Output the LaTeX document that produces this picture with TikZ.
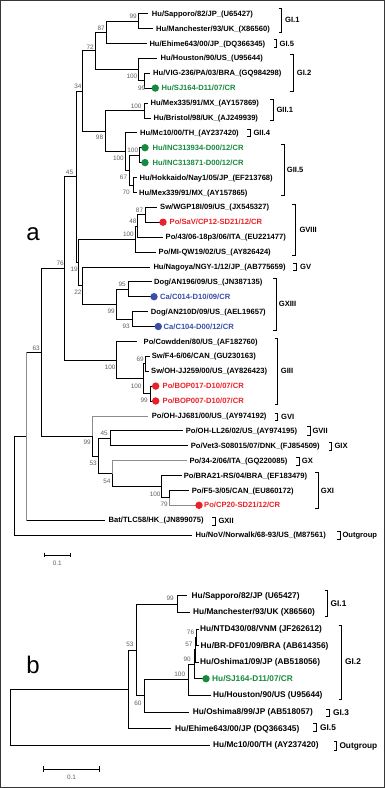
\documentclass[tikz,border=0pt]{standalone}
\usepackage{fontspec}
\setmainfont{Liberation Sans}
\definecolor{cgreen}{RGB}{22,138,62}
\definecolor{cred}{RGB}{236,32,40}
\definecolor{cblue}{RGB}{58,78,170}
\definecolor{bsgray}{RGB}{95,95,95}
\definecolor{lgray}{RGB}{140,140,140}
\definecolor{framec}{RGB}{55,55,55}
\newcommand\lfsize{\fontsize{7.6}{9}\selectfont}
\tikzset{
  br/.style={line width=0.8pt, draw=black},
  lgr/.style={draw=lgray},
  lf/.style={anchor=mid west, inner sep=0pt, font=\bfseries\lfsize},
  bsn/.style={anchor=mid east, inner sep=0pt, text=bsgray, font=\fontsize{6.4}{7}\selectfont},
  grpl/.style={anchor=mid west, inner sep=0pt, font=\bfseries\lfsize},
  brk/.style={line width=0.8pt, draw=black},
  dotn/.style={circle, inner sep=0pt, minimum size=7.4pt},
  panel/.style={anchor=base, inner sep=0pt, font=\fontsize{24}{24}\selectfont},
  sclab/.style={inner sep=0pt, text=bsgray, font=\fontsize{6.4}{7}\selectfont},
}
\newcommand\leaf[7]{%
  \coordinate (#1e) at (#3,#4);
  \draw[br,#6] (#2) |- (#1e);
  \node[lf] (#1) at (#5,#4) {#7};}
\newcommand\cleaf[9]{%
  \coordinate (#1e) at (#3,#4);
  \draw[br,#9] (#2) |- (#1e);
  \node[dotn, fill=#7] (#1d) at (#5,#4) {};
  \node[lf, text=#7] (#1) at (#6,#4) {#8};}
\newcommand\bsl[4]{\node[bsn] (#1) at (#2,#3) {#4};}
\newcommand\grp[6]{%
  \draw[brk] ({#2-3},#3) -- (#2,#3) -- (#2,#4) -- ({#2-3},#4);
  \node[grpl] (#1) at (#5,{(#3+#4)/2}) {#6};}
\begin{document}
\begin{tikzpicture}[x=1pt,y=-1pt]
\useasboundingbox (0,0) rectangle (385,788);
\draw[framec, line width=1.4pt] (0.7,0.7) rectangle (384.3,787.3);

% ---------------- tree a : internal nodes
\coordinate (A1) at (138,21.05);
\coordinate (A2) at (106,32.2);
\coordinate (A5) at (144.5,80.65);
\coordinate (A4) at (138,69.5);
\coordinate (A3) at (95,50.85);
\coordinate (G1) at (144,110.45);
\coordinate (E) at (139.3,155.15);
\coordinate (F) at (133.3,184.95);
\coordinate (G) at (129.3,170.05);
\coordinate (C) at (125,151.4);
\coordinate (GII) at (105.3,130.9);
\coordinate (B) at (82,90.9);
\coordinate (H) at (145.7,214.75);
\coordinate (I) at (137.7,225.9);
\coordinate (J) at (135.3,238.95);
\coordinate (U) at (128.3,289.25);
\coordinate (V) at (132.3,319.05);
\coordinate (M) at (116.3,304.15);
\coordinate (L) at (82.7,285.5);
\coordinate (K) at (78.7,262.2);
\coordinate (N) at (76,176.55);
\coordinate (S) at (145.7,363.75);
\coordinate (T) at (150.7,393.55);
\coordinate (R) at (143.3,378.65);
\coordinate (Q) at (116.3,360.0);
\coordinate (O) at (64.3,268.3);
\coordinate (Z1) at (110,438.25);
\coordinate (Z4) at (169.3,497.85);
\coordinate (Z3) at (161.3,486.7);
\coordinate (Z2) at (112.7,473.65);
\coordinate (Z) at (98.3,455.95);
\coordinate (Y) at (92.7,435.9);
\coordinate (P) at (41,352.1);
\coordinate (W) at (26.7,436.15);
\coordinate (X) at (14.7,485.6);

\foreach \p/\c in {A2/A1,A3/A2,A3/A4,A4/A5,B/A3,B/GII,GII/G1,GII/C,C/G,G/E,G/F,N/B,N/K,K/J,K/L,J/I,I/H,L/M,M/U,M/V,O/N,O/Q,Q/R,R/S,R/T,P/O,P/Y,Y/Z,Z/Z1,Z/Z2,Z2/Z3,Z3/Z4,X/W}
  \draw[br] (\p) |- (\c);
\draw[br,lgr] (W) |- (P);
\draw[br] (W |- P) -- (P);

% ---------------- tree a : leaves
\leaf{a1}{A1}{148}{13.6}{151.7}{}{Hu/Sapporo/82/JP\_(U65427)}
\leaf{a2}{A1}{153}{28.5}{156}{}{Hu/Manchester/93/UK\_(X86560)}
\leaf{a3}{A2}{147}{43.4}{149.3}{}{Hu/Ehime643/00/JP\_(DQ366345)}
\leaf{a4}{A4}{157}{58.3}{160.5}{}{Hu/Houston/90/US\_(U95644)}
\leaf{a5}{A5}{149.5}{73.2}{153}{}{Hu/VIG-236/PA/03/BRA\_(GQ984298)}
\cleaf{a6}{A5}{151.5}{88.1}{155.3}{161.5}{cgreen}{Hu/SJ164-D11/07/CR}{}
\leaf{a7}{G1}{148}{103.0}{150.5}{}{Hu/Mex335/91/MX\_(AY157869)}
\leaf{a8}{G1}{151}{117.9}{153.5}{}{Hu/Bristol/98/UK\_(AJ249939)}
\leaf{a9}{C}{137}{132.8}{140}{}{Hu/Mc10/00/TH\_(AY237420)}
\cleaf{a10}{E}{141.5}{147.7}{145}{152.5}{cgreen}{Hu/INC313934-D00/12/CR}{}
\cleaf{a11}{E}{141.5}{162.6}{145}{152.5}{cgreen}{Hu/INC313871-D00/12/CR}{}
\leaf{a12}{F}{137}{177.5}{139.5}{}{Hu/Hokkaido/Nay1/05/JP\_(EF213768)}
\leaf{a13}{F}{137}{192.4}{139}{}{Hu/Mex339/91/MX\_(AY157865)}
\leaf{a14}{H}{156.5}{207.3}{160}{}{Sw/WGP18I/09/US\_(JX545327)}
\cleaf{a15}{H}{159.5}{222.2}{163}{169.5}{cred}{Po/SaV/CP12-SD21/12/CR}{}
\leaf{a16}{I}{163}{237.1}{165.5}{}{Po/43/06-18p3/06/ITA\_(EU221477)}
\leaf{a17}{J}{155.5}{252.0}{158.5}{}{Po/MI-QW19/02/US\_(AY826424)}
\leaf{a18}{L}{150}{266.9}{153.3}{}{Hu/Nagoya/NGY-1/12/JP\_(AB775659)}
\leaf{a19}{U}{151.5}{281.8}{154}{}{Dog/AN196/09/US\_(JN387135)}
\cleaf{a20}{U}{150.5}{296.7}{154}{160}{cblue}{Ca/C014-D10/09/CR}{}
\leaf{a21}{V}{148.3}{311.6}{150.7}{}{Dog/AN210D/09/US\_(AEL19657)}
\cleaf{a22}{V}{154.5}{326.5}{158.3}{163.5}{cblue}{Ca/C104-D00/12/CR}{}
\leaf{a23}{Q}{136.7}{341.4}{143.5}{}{Po/Cowdden/80/US\_(AF182760)}
\leaf{a24}{S}{149.5}{356.3}{151.7}{}{Sw/F4-6/06/CAN\_(GU230163)}
\leaf{a25}{S}{149}{371.2}{151}{}{Sw/OH-JJ259/00/US\_(AY826423)}
\cleaf{a26}{T}{152.5}{386.1}{155.7}{162.5}{cred}{Po/BOP017-D10/07/CR}{}
\cleaf{a27}{T}{152.5}{401.0}{155.7}{162.5}{cred}{Po/BOP007-D10/07/CR}{}
\leaf{a28}{Y}{148.3}{415.9}{151.7}{lgr}{Po/OH-JJ681/00/US\_(AY974192)}
\leaf{a29}{Z1}{183.3}{430.8}{185.7}{}{Po/OH-LL26/02/US\_(AY974195)}
\leaf{a30}{Z1}{188.3}{445.7}{190.7}{}{Po/Vet3-S08015/07/DNK\_(FJ854509)}
\leaf{a31}{Z2}{186.7}{460.6}{189.3}{lgr}{Po/34-2/06/ITA\_(GQ220085)}
\leaf{a32}{Z3}{181.7}{475.5}{183.7}{}{Po/BRA21-RS/04/BRA\_(EF183479)}
\leaf{a33}{Z4}{189.3}{490.4}{191.7}{}{Po/F5-3/05/CAN\_(EU860172)}
\cleaf{a34}{Z4}{195.5}{505.3}{199}{204}{cred}{Po/CP20-SD21/12/CR}{lgr}
\leaf{a35}{W}{105}{520.2}{108.5}{lgr}{Bat/TLC58/HK\_(JN899075)}
\draw[br] (W |- a35e) -- (a35e);
\leaf{a36}{X}{191.7}{535.1}{195.5}{}{Hu/NoV/Norwalk/68-93/US\_(M87561)}

% ---------------- tree a : bootstrap values
\bsl{s1}{137}{15.5}{99}
\bsl{s2}{105}{28}{87}
\bsl{s3}{94}{46.7}{72}
\bsl{s4}{137.5}{76}{100}
\bsl{s5}{145.5}{87.7}{99}
\bsl{s6}{81.7}{86}{34}
\bsl{s7}{141.7}{106}{100}
\bsl{s8}{103.3}{137.3}{98}
\bsl{s9}{138.3}{150}{100}
\bsl{s10}{124}{158.3}{100}
\bsl{s11}{127.3}{176.7}{67}
\bsl{s12}{130}{191.7}{70}
\bsl{s13}{73.3}{171.7}{45}
\bsl{s14}{143.3}{210}{87}
\bsl{s15}{136.7}{220.7}{48}
\bsl{s16}{134}{234.3}{100}
\bsl{s17}{64}{263.3}{76}
\bsl{s18}{78}{269}{19}
\bsl{s19}{81.7}{292.3}{22}
\bsl{s20}{126}{284.3}{95}
\bsl{s21}{115}{310.7}{99}
\bsl{s22}{130}{325.7}{93}
\bsl{s23}{40}{347.7}{63}
\bsl{s24}{115.7}{367.3}{100}
\bsl{s25}{144}{359}{69}
\bsl{s26}{141.7}{385.7}{100}
\bsl{s27}{148}{400}{99}
\bsl{s28}{91}{441.7}{99}
\bsl{s29}{108}{433.3}{45}
\bsl{s30}{97}{462.7}{53}
\bsl{s31}{110.7}{480.7}{54}
\bsl{s32}{160.7}{494}{100}
\bsl{s33}{168}{504.3}{79}

% ---------------- tree a : groups
\grp{ga1}{281.7}{8.3}{32.3}{285}{GI.1}
\grp{ga2}{276.7}{39.3}{47.7}{279.5}{GI.5}
\grp{ga3}{293.3}{54.3}{91.7}{296.7}{GI.2}
\grp{ga4}{273.3}{99.3}{120}{276.3}{GII.1}
\grp{ga5}{250}{129}{136.7}{253.3}{GII.4}
\grp{ga6}{284}{144.3}{195.7}{286.7}{GII.5}
\grp{ga7}{295}{204.3}{255}{299.3}{GVIII}
\grp{ga8}{296}{263.3}{270.7}{300}{GV}
\grp{ga9}{276}{278.3}{330}{278.7}{GXIII}
\grp{ga10}{277.7}{338.3}{404.3}{280.7}{GIII}
\grp{ga11}{277.7}{413.3}{420}{281}{GVI}
\grp{ga12}{310}{426.7}{435}{312.3}{GVII}
\grp{ga13}{331.7}{442.7}{450}{334.3}{GIX}
\grp{ga14}{299}{457.7}{465}{301.7}{GX}
\grp{ga15}{318.3}{472.7}{508.3}{320.7}{GXI}
\grp{ga16}{215}{517.3}{525}{218.3}{GXII}
\grp{ga17}{340}{531}{539.3}{342.3}{Outgroup}

\node[panel] (pa) at (33,240) {a};

% scale bar a
\coordinate (sca1) at (44.3,555);
\coordinate (sca2) at (70.3,555);
\draw[br] (sca1) -- (sca2);
\draw[br] ([yshift=2.4pt]sca1) -- ([yshift=-2.4pt]sca1);
\draw[br] ([yshift=2.4pt]sca2) -- ([yshift=-2.4pt]sca2);
\node[sclab] (scal) at (57.3,563.5) {0.1};

% ---------------- tree b
\renewcommand\lfsize{\fontsize{8.3}{10}\selectfont}
\coordinate (b1) at (177.3,604.0);
\coordinate (b8) at (196.7,637.2);
\coordinate (b7) at (195.7,649.65);
\coordinate (b6) at (194.5,664.2);
\coordinate (b5) at (188.3,679.75);
\coordinate (b4) at (144.3,695.8);
\coordinate (b2) at (136.7,649.9);
\coordinate (b3) at (128.7,689.2);
\coordinate (R0) at (10,717.15);
\foreach \p/\c in {b2/b1,b2/b4,b3/b2,b4/b5,b5/b6,b6/b7,b7/b8,R0/b3}
  \draw[br] (\p) |- (\c);

\leaf{c1}{b1}{186.5}{595.7}{191.5}{}{Hu/Sapporo/82/JP (U65427)}
\leaf{c2}{b1}{189.5}{612.3}{193}{}{Hu/Manchester/93/UK (X86560)}
\leaf{c3}{b8}{198.5}{628.9}{200}{}{Hu/NTD430/08/VNM (JF262612)}
\leaf{c4}{b8}{198.5}{645.5}{200.5}{}{Hu/BR-DF01/09/BRA (AB614356)}
\leaf{c5}{b7}{198.5}{662.1}{200}{}{Hu/Oshima1/09/JP (AB518056)}
\cleaf{c6}{b6}{202.5}{678.7}{206}{212}{cgreen}{Hu/SJ164-D11/07/CR}{}
\leaf{c7}{b5}{210.5}{695.3}{213}{}{Hu/Houston/90/US (U95644)}
\leaf{c8}{b4}{188.5}{711.9}{192.7}{}{Hu/Oshima8/99/JP (AB518057)}
\leaf{c9}{b3}{171}{728.5}{175}{}{Hu/Ehime643/00/JP (DQ366345)}
\leaf{c10}{R0}{209.5}{745.1}{213}{}{Hu/Mc10/00/TH (AY237420)}

\bsl{t1}{174}{597.7}{99}
\bsl{t2}{133.7}{644.3}{53}
\bsl{t3}{141.7}{703.3}{60}
\bsl{t4}{185.3}{674.3}{100}
\bsl{t5}{191}{659.3}{90}
\bsl{t6}{192.7}{644.3}{57}
\bsl{t7}{194.3}{631.7}{76}

\grp{gb1}{327.7}{590.7}{616.7}{330.5}{GI.1}
\grp{gb2}{341.7}{625}{699}{345}{GI.2}
\grp{gb3}{329}{709}{716}{333}{GI.3}
\grp{gb4}{316}{723.3}{731.7}{320}{GI.5}
\grp{gb5}{336.7}{741}{750}{339.3}{Outgroup}

\node[panel] (pb) at (33,673.3) {b};

% scale bar b
\coordinate (scb1) at (43.3,769);
\coordinate (scb2) at (99.3,769);
\draw[br] (scb1) -- (scb2);
\draw[br] ([yshift=2.8pt]scb1) -- ([yshift=-2.8pt]scb1);
\draw[br] ([yshift=2.8pt]scb2) -- ([yshift=-2.8pt]scb2);
\node[sclab] (scbl) at (71.5,777) {0.1};
\end{tikzpicture}
\end{document}
